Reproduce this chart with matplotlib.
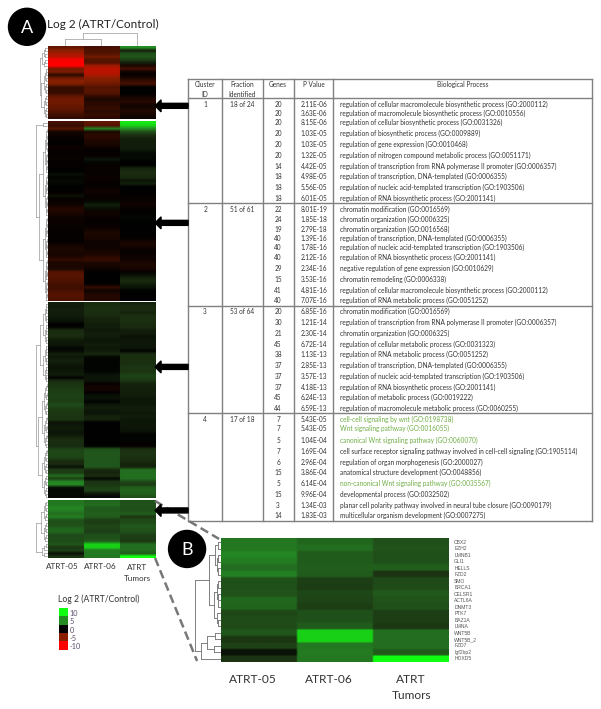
import matplotlib
matplotlib.use("Agg")
import matplotlib.pyplot as plt
from matplotlib.colors import LinearSegmentedColormap
from matplotlib.patches import Circle
import numpy as np

plt.rcParams['font.family'] = ['Lato', 'DejaVu Sans']

# heatmap values, log2(ATRT/Control), columns ATRT-05, ATRT-06, ATRT Tumors
cluster_1 = [
    [-3.5, -2.5, 5.0], [-5.0, -2.8, 1.0], [-6.0, -3.0, 2.5], [-7.0, -4.0, 2.8],
    [-9.5, -3.0, 2.0], [-10.0, -3.0, 0.8], [-10.0, -6.0, -1.0], [-4.0, -7.0, -2.5],
    [-4.5, -7.0, -0.5], [-1.5, -6.5, -0.3], [-4.0, -5.0, -1.0], [-5.0, -4.5, -2.0],
    [-4.5, -4.0, -2.5], [-2.0, -3.0, 0.0], [-2.0, -3.2, 0.0], [-2.0, -3.0, 0.0],
    [-3.5, -1.8, -0.6], [-4.0, -1.0, -1.2], [-4.0, -1.5, -1.4], [-3.8, -1.5, -0.6],
    [-3.5, -2.0, -0.8], [-3.0, -1.5, -1.2], [-2.5, -2.0, -0.8], [-1.8, -1.5, -0.5],
]
cluster_2 = [
    [-2.5, -3.5, 9.0], [-2.0, -3.0, 8.0], [-3.0, 4.5, 5.0], [-0.8, -1.0, 2.5],
    [-0.5, -1.5, 1.5], [-0.3, -1.5, 1.0], [-0.2, -1.0, 0.8], [0.0, -1.0, 0.8],
    [-0.5, -0.5, 0.8], [-0.3, -0.2, 0.7], [-0.2, -0.2, 0.3], [-0.3, -0.2, 0.3],
    [-0.3, 0.6, 0.2], [-0.2, 0.2, 0.0], [-0.2, -0.2, 0.0], [-0.1, -0.3, 1.0],
    [0.0, -0.3, 1.2], [0.4, -0.3, 1.2], [0.1, -0.4, 1.1], [0.3, -0.3, 0.6],
    [0.2, -0.2, 0.9], [0.0, -0.2, 0.0], [0.0, -0.5, 0.0], [-0.2, -0.5, 0.0],
    [0.5, -0.3, -0.2], [-0.3, -0.3, -0.3], [-0.3, 0.3, -0.4], [-0.6, 0.9, -0.6],
    [-1.2, 0.4, -0.3], [-1.2, -0.5, -0.1], [-0.8, -0.6, 0.1], [-0.5, -0.3, 0.2],
    [-0.4, -0.2, 0.1], [-0.4, -0.2, 0.0], [-0.3, -0.3, 0.0], [-0.3, -0.6, 0.0],
    [-0.2, -1.0, 0.0], [-0.2, -1.0, 0.0], [-0.2, -0.9, -0.2], [-0.1, -0.5, -0.8],
    [-0.6, -0.5, -1.0], [-1.0, -0.5, -0.6], [-1.0, -0.8, -0.3], [-0.9, -0.9, -0.3],
    [-1.0, -1.5, -0.5], [-1.8, -2.0, -0.5], [-1.0, -1.0, -1.0], [-1.0, -0.8, -1.0],
    [-1.0, -0.4, -0.8], [-3.0, 0.0, -0.2], [-3.2, 0.0, 0.5], [-3.0, 0.0, 1.0],
    [-2.8, 0.0, 1.2], [-2.5, -0.2, 0.8], [-2.2, -1.8, 0.5], [-2.5, -0.6, 0.1],
    [-3.0, -1.0, 0.0], [-3.0, -1.3, 0.0], [-2.8, -1.2, 0.0],
]
cluster_3 = [
    [0.8, 1.2, 1.0], [0.8, 1.3, 1.2], [0.9, 1.4, 1.2], [0.8, 1.3, 1.0],
    [0.8, 1.2, 1.4], [0.7, 1.0, 1.4], [0.4, 1.0, 1.4], [0.0, 0.8, 1.2],
    [0.2, 0.8, 1.2], [1.2, 0.7, 0.8], [1.3, 0.9, 0.8], [1.3, 0.8, 0.5],
    [0.8, 0.7, 0.6], [0.7, 0.7, 0.7], [0.7, 0.8, 0.7], [0.2, 0.7, 0.6],
    [0.3, 0.8, 0.1], [0.9, 1.1, 1.3], [0.7, 0.2, 1.4], [0.9, 0.1, 1.4],
    [0.8, 0.1, 1.3], [0.6, 0.1, 1.5], [0.6, 0.1, 1.6], [0.7, 0.2, 1.5],
    [0.8, 0.5, 2.0], [0.1, 0.6, 2.0], [1.2, 0.6, 1.6], [1.5, -0.3, 1.0],
    [1.6, -0.7, 1.0], [1.8, -0.7, 0.9], [1.9, -0.2, 0.9], [2.0, 0.4, 0.8],
    [1.9, 0.5, 0.7], [1.9, 0.1, 0.7], [2.3, 0.6, 0.7], [2.0, 0.8, 0.8],
    [1.7, 0.7, 0.8], [1.6, 0.6, 0.7], [1.5, 1.0, 0.8], [1.6, 1.0, 0.7],
    [0.6, 0.0, 0.7], [0.7, 0.0, 0.7], [0.8, 0.0, 0.6], [0.6, 0.0, 0.5],
    [0.7, 0.0, 0.1], [1.0, 0.0, 0.1], [1.3, 0.0, 0.1], [1.3, 0.0, -0.1],
    [1.2, 0.0, -0.3], [2.0, 2.6, 1.3], [2.2, 2.8, 1.5], [2.2, 2.8, 1.5],
    [2.1, 2.8, 1.4], [1.2, 2.8, 1.2], [1.2, 2.8, 1.0], [0.5, 2.8, 1.0],
    [1.8, 1.2, 3.8], [1.8, 1.0, 3.8], [3.6, 1.3, 3.9], [2.0, 0.3, 3.8],
    [4.8, 1.6, 2.2], [4.8, 1.6, 1.8], [0.4, 2.0, 3.2], [0.3, 2.0, 3.3],
    [0.3, 0.7, 3.2], [0.2, 0.3, 2.5],
]
# cluster 4 is the same block as panel B
gene_names = ["CBX2", "EZH2", "LMNB1", "GLI1", "HELLS", "FZD2", "SMO", "BRCA1", "CELSR1",
              "ACTL6A", "DNMT3", "PTK7", "BAZ1A", "LMNA", "WNT5B", "WNT5B_2", "FZD7",
              "Igf2bp2", "HOXD5"]
cluster_4 = [
    [4.2, 3.5, 2.5], [4.2, 3.8, 2.6], [4.8, 3.0, 2.5], [4.4, 3.0, 2.5], [3.8, 3.2, 3.2],
    [4.5, 3.0, 1.5], [2.5, 1.9, 2.3], [2.5, 1.8, 2.4], [2.6, 2.2, 2.9], [3.5, 2.1, 2.6],
    [3.4, 1.9, 2.5], [2.2, 2.5, 1.9], [2.4, 2.5, 1.9], [2.4, 3.0, 1.7], [2.8, 8.0, 3.8],
    [1.6, 8.0, 3.8], [2.0, 4.2, 3.8], [0.5, 4.3, 3.0], [1.5, 4.2, 10.0],
]

legend_values = [10, 5, 0, -5, -10]

# table
header_cols = [["Cluster", "ID"], ["Fraction", "Identified"], ["Genes"], ["P Value"], ["Biological Process"]]
cluster_ids = ["1", "2", "3", "4"]
fractions = ["18 of 24", "51 of 61", "53 of 64", "17 of 18"]
genes = [
    [20, 20, 20, 20, 20, 20, 14, 18, 18, 18],
    [22, 24, 19, 40, 40, 40, 29, 15, 41, 40],
    [20, 30, 21, 45, 38, 37, 37, 37, 45, 44],
    [7, 7, 5, 7, 6, 15, 5, 15, 3, 14],
]
p_values = [
    ["2.11E-06", "3.63E-06", "8.15E-06", "1.03E-05", "1.03E-05", "1.32E-05", "4.42E-05", "4.98E-05", "5.56E-05", "6.01E-05"],
    ["8.01E-19", "1.85E-18", "2.79E-18", "1.39E-16", "1.78E-16", "2.12E-16", "2.34E-16", "3.53E-16", "4.81E-16", "7.07E-16"],
    ["6.85E-16", "1.21E-14", "2.30E-14", "6.72E-14", "1.13E-13", "2.85E-13", "3.57E-13", "4.18E-13", "6.24E-13", "6.59E-13"],
    ["5.43E-05", "5.43E-05", "1.04E-04", "1.69E-04", "2.96E-04", "3.86E-04", "6.14E-04", "9.96E-04", "1.34E-03", "1.83E-03"],
]
processes = [
    ["regulation of cellular macromolecule biosynthetic process (GO:2000112)",
     "regulation of macromolecule biosynthetic process (GO:0010556)",
     "regulation of cellular biosynthetic process (GO:0031326)",
     "regulation of biosynthetic process (GO:0009889)",
     "regulation of gene expression (GO:0010468)",
     "regulation of nitrogen compound metabolic process (GO:0051171)",
     "regulation of transcription from RNA polymerase II promoter (GO:0006357)",
     "regulation of transcription, DNA-templated (GO:0006355)",
     "regulation of nucleic acid-templated transcription (GO:1903506)",
     "regulation of RNA biosynthetic process (GO:2001141)"],
    ["chromatin modification (GO:0016569)",
     "chromatin organization (GO:0006325)",
     "chromatin organization (GO:0016568)",
     "regulation of transcription, DNA-templated (GO:0006355)",
     "regulation of nucleic acid-templated transcription (GO:1903506)",
     "regulation of RNA biosynthetic process (GO:2001141)",
     "negative regulation of gene expression (GO:0010629)",
     "chromatin remodeling (GO:0006338)",
     "regulation of cellular macromolecule biosynthetic process (GO:2000112)",
     "regulation of RNA metabolic process (GO:0051252)"],
    ["chromatin modification (GO:0016569)",
     "regulation of transcription from RNA polymerase II promoter (GO:0006357)",
     "chromatin organization (GO:0006325)",
     "regulation of cellular metabolic process (GO:0031323)",
     "regulation of RNA metabolic process (GO:0051252)",
     "regulation of transcription, DNA-templated (GO:0006355)",
     "regulation of nucleic acid-templated transcription (GO:1903506)",
     "regulation of RNA biosynthetic process (GO:2001141)",
     "regulation of metabolic process (GO:0019222)",
     "regulation of macromolecule metabolic process (GO:0060255)"],
    ["cell-cell signaling by wnt (GO:0198738)",
     "Wnt signaling pathway (GO:0016055)",
     "canonical Wnt signaling pathway (GO:0060070)",
     "cell surface receptor signaling pathway involved in cell-cell signaling (GO:1905114)",
     "regulation of organ morphogenesis (GO:2000027)",
     "anatomical structure development (GO:0048856)",
     "non-canonical Wnt signaling pathway (GO:0035567)",
     "developmental process (GO:0032502)",
     "planar cell polarity pathway involved in neural tube closure (GO:0090179)",
     "multicellular organism development (GO:0007275)"],
]

# layout, in pixels of the 601x709 picture
row_y = [
    [104, 113, 122, 133, 144, 155, 166, 176, 187, 198],
    [209, 219, 229, 238, 247, 257, 268, 279, 290, 300],
    [311, 322, 333, 344, 354, 365, 376, 387, 397, 408],
    [419, 428, 440, 451, 462, 472, 483, 494, 505, 515],
]
table_hlines = [79, 98, 203, 306, 413, 521]
table_vlines = [188, 222, 263, 294, 333, 592]
blocks_a = [(47, 119), (122, 301.5), (303, 498.5), (500.5, 558)]
arrow_y = [106, 223, 367, 510.5]
text_col = "#333333"
green_col = "#6fae45"
line_col = "#808080"
tree_col = "#9a9a9a"
table_fs = 4.7

cmap = LinearSegmentedColormap.from_list(
    "gkr", [(0, "#ff0000"), (0.25, "#8b2000"), (0.5, "#000000"), (0.5625, "#1a2c10"),
            (0.625, "#204f1a"), (0.75, "#258a24"), (1, "#10ff10")])

fig = plt.figure(figsize=(6.012, 7.092), dpi=100)
ax = fig.add_axes([0, 0, 1, 1])


def heat(values, x0, x1, y0, y1, row_rep=1):
    # columns repeated so that bilinear only softens the row edges
    arr = np.repeat(np.repeat(np.array(values), row_rep, axis=0), 40, axis=1)
    ax.imshow(arr, cmap=cmap, vmin=-10, vmax=10, aspect="auto",
              interpolation="bilinear", extent=(x0, x1, y1, y0), zorder=2)


# node = (depth from the leaves, child, child); a plain number is a leaf
def draw_tree(node, leaf_pos, base, scale, horizontal=True, lw=0.5, col=tree_col):
    if not isinstance(node, tuple):
        return leaf_pos(node), 0
    pts = [draw_tree(c, leaf_pos, base, scale, horizontal, lw, col) for c in node[1:]]
    d = node[0]
    for p, dc in pts:
        if horizontal:
            ax.plot([base - dc * scale, base - d * scale], [p, p], color=col, lw=lw, zorder=1)
        else:
            ax.plot([p, p], [base - dc * scale, base - d * scale], color=col, lw=lw, zorder=1)
    pos = [p for p, _ in pts]
    if horizontal:
        ax.plot([base - d * scale] * 2, [pos[0], pos[-1]], color=col, lw=lw, zorder=1)
    else:
        ax.plot([pos[0], pos[-1]], [base - d * scale] * 2, color=col, lw=lw, zorder=1)
    return sum(pos) / len(pos), d


def bisect_tree(a, b, d):
    if a == b:
        return a
    m = (a + b) // 2
    return (d, bisect_tree(a, m, d * 0.55), bisect_tree(m + 1, b, d * 0.55))


def rows_at(y0, y1, n):
    return lambda i: y0 + (i + 0.5) * (y1 - y0) / n


# panel A heatmap and its trees
for vals, (y0, y1) in zip([cluster_1, cluster_2, cluster_3, cluster_4], blocks_a):
    heat(vals, 48, 155, y0, y1)

trees_a = [
    (0.65, bisect_tree(0, 6, 0.45), bisect_tree(7, 23, 0.5)),
    (1.0, (0.35, 0, 1), bisect_tree(2, 58, 0.7)),
    (1.0, bisect_tree(0, 26, 0.6), (0.75, bisect_tree(27, 48, 0.45), bisect_tree(49, 65, 0.45))),
    (1.0, bisect_tree(0, 13, 0.55), bisect_tree(14, 18, 0.4)),
]
for tree, vals, (y0, y1) in zip(trees_a, [cluster_1, cluster_2, cluster_3, cluster_4], blocks_a):
    draw_tree(tree, rows_at(y0, y1, len(vals)), 47, 11.5)

col_pos = lambda i: 65 + 36 * i
draw_tree((1.0, (0.55, 0, 1), 2), col_pos, 46, 12.5, horizontal=False)

ax.text(47, 24, "Log 2 (ATRT/Control)", fontsize=8.5, color="#222222", va="center", ha="left")
for x, lab in zip([62, 100], ["ATRT-05", "ATRT-06"]):
    ax.text(x, 566.5, lab, fontsize=5.9, color=text_col, ha="center", va="center")
ax.text(137, 567, "ATRT", fontsize=5.9, color=text_col, ha="center", va="center")
ax.text(137, 578, "Tumors", fontsize=5.9, color=text_col, ha="center", va="center")

# arrows
for y in arrow_y:
    ax.arrow(188, y, -33, 0, width=5, head_width=12, head_length=6, length_includes_head=True,
             color="black", zorder=4)

# legend
ax.text(58, 599, "Log 2 (ATRT/Control)", fontsize=6.2, color=text_col, va="center", ha="left")
for i, v in enumerate(legend_values):
    ax.imshow([[v]], cmap=cmap, vmin=-10, vmax=10, aspect="auto",
              extent=(59, 67, 609 + (i + 1) * 8.2, 609 + i * 8.2), zorder=2)
    ax.text(69.5, 613.5 + i * 8.2, str(v), fontsize=5.2, color="#5a4a6a", va="center", ha="left")

# table
for y in table_hlines:
    ax.plot([table_vlines[0], table_vlines[-1]], [y, y], color=line_col, lw=1.0, zorder=1)
for x in table_vlines:
    ax.plot([x, x], [table_hlines[0], table_hlines[-1]], color=line_col, lw=1.0, zorder=1)

for x, lines in zip([205, 242, 278, 314, 463], header_cols):
    for j, s in enumerate(lines):
        ax.text(x, 84.5 + j * 9.5, s, fontsize=table_fs, color=text_col, ha="center", va="center")

for c in range(4):
    ax.text(205, row_y[c][0], cluster_ids[c], fontsize=table_fs, color=text_col, ha="center", va="center")
    ax.text(242, row_y[c][0], fractions[c], fontsize=table_fs, color=text_col, ha="center", va="center")
    for y, g, p, name in zip(row_y[c], genes[c], p_values[c], processes[c]):
        ax.text(278, y, str(g), fontsize=table_fs, color=text_col, ha="center", va="center")
        ax.text(314, y, p, fontsize=table_fs, color=text_col, ha="center", va="center")
        col = green_col if "wnt" in name.lower() and "cell surface" not in name else text_col
        ax.text(340, y, name, fontsize=table_fs, color=col, ha="left", va="center")

# panel B
heat(cluster_4, 221, 448, 539, 662, row_rep=3)
tree_b = (1.0,
          (0.46, (0.2, (0.1, 0, 1), (0.13, (0.1, 2, 3), (0.1, 4, 5))),
           (0.25, (0.12, (0.08, 6, 7), (0.1, 8, (0.07, 9, 10))), (0.12, 11, (0.08, 12, 13)))),
          (0.77, (0.52, (0.2, 14, 15), (0.25, 16, 17)), 18))
draw_tree(tree_b, rows_at(539, 662, 19), 220, 25, lw=0.7, col=line_col)

for i, name in enumerate(gene_names):
    ax.text(454, 539 + (i + 0.5) * 123 / 19, name, fontsize=3.6, color="#555555",
            family="Liberation Sans", ha="left", va="center")

for x, lab in zip([253, 329], ["ATRT-05", "ATRT-06"]):
    ax.text(x, 679, lab, fontsize=8.6, color=text_col, ha="center", va="center")
ax.text(411, 679, "ATRT", fontsize=8.6, color=text_col, ha="center", va="center")
ax.text(411, 695, "Tumors", fontsize=8.6, color=text_col, ha="center", va="center")

# zoom lines and the two badges
ax.plot([155, 219], [501, 539], color="#777777", lw=1.8, ls=(0, (3.5, 1.8)), zorder=3)
ax.plot([155, 197], [558, 661], color="#777777", lw=1.8, ls=(0, (3.5, 1.8)), zorder=3)
for (x, y, lab) in [(27, 27, "A"), (187, 549, "B")]:
    ax.add_patch(Circle((x, y), 18.5, color="black", zorder=5))
    ax.text(x, y + 0.5, lab, color="white", fontsize=13, ha="center", va="center", zorder=6)

ax.set_xlim(0, 601)
ax.set_ylim(709, 0)
ax.axis("off")
fig.savefig("out.png", dpi=100)
